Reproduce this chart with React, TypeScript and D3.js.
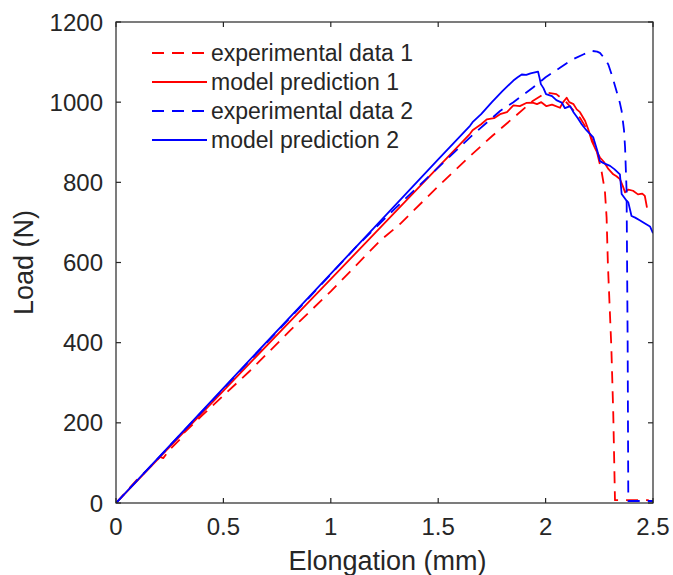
import React from "react";
import * as d3 from "d3";

type P = [number, number];

const xTicks = [0, 0.5, 1, 1.5, 2, 2.5];
const xTickLabels = ["0", "0.5", "1", "1.5", "2", "2.5"];
const yTicks = [0, 200, 400, 600, 800, 1000, 1200];
const yTickLabels = ["0", "200", "400", "600", "800", "1000", "1200"];

const seriesNames = ["experimental data 1", "model prediction 1", "experimental data 2", "model prediction 2"];
const seriesColors = ["#ff0000", "#ff0000", "#0000ff", "#0000ff"];
const seriesDashed = [true, false, true, false];

const experimental1: P[] = [
  [0, 0], [0.096, 57], [0.15, 85], [0.205, 115], [0.22, 112], [0.25, 133], [0.3, 160], [0.313, 173],
  [0.4, 218], [0.5, 268], [0.624, 330], [0.81, 430], [1.0, 528], [1.229, 654], [1.322, 696],
  [1.5, 790], [1.633, 858], [1.75, 915], [1.85, 961], [1.94, 1003], [2.004, 1024], [2.05, 1020],
  [2.098, 999], [2.16, 961], [2.207, 920], [2.238, 878], [2.26, 829], [2.276, 779], [2.284, 712],
  [2.29, 596], [2.306, 389], [2.315, 223], [2.323, 7], [2.48, 7],
];

const model1: P[] = [
  [0, 0], [0.3, 168], [0.6, 336], [0.9, 503], [1.2, 670], [1.5, 838], [1.648, 921], [1.66, 930],
  [1.7, 945], [1.726, 957], [1.76, 960], [1.788, 970], [1.82, 975], [1.85, 992], [1.88, 990],
  [1.91, 998], [1.94, 999], [1.96, 995], [1.98, 1000], [2.004, 990], [2.03, 994], [2.067, 986],
  [2.08, 999], [2.098, 1011], [2.11, 1000], [2.13, 995], [2.145, 982], [2.16, 975], [2.184, 953],
  [2.2, 930], [2.215, 903], [2.235, 880], [2.253, 862], [2.27, 852], [2.29, 835], [2.315, 820],
  [2.33, 815], [2.346, 808], [2.36, 790], [2.37, 775], [2.385, 782], [2.407, 779], [2.43, 770],
  [2.45, 772], [2.462, 766], [2.472, 737],
];

const experimental2: P[] = [
  [0, 0], [0.3, 171], [0.6, 342], [0.9, 513], [1.12, 640], [1.3, 735], [1.508, 841], [1.664, 920],
  [1.788, 978], [1.85, 1000], [1.94, 1036], [2.0, 1062], [2.067, 1086], [2.12, 1105], [2.175, 1119],
  [2.215, 1128], [2.24, 1126], [2.253, 1123], [2.27, 1112], [2.292, 1094], [2.31, 1065], [2.33, 1028],
  [2.345, 1000], [2.354, 978], [2.365, 930], [2.37, 887], [2.377, 779], [2.382, 400], [2.385, 5],
  [2.5, 5],
];

const model2: P[] = [
  [0, 0], [0.3, 172], [0.6, 344], [0.9, 515], [1.2, 686], [1.5, 857], [1.648, 941], [1.66, 950],
  [1.7, 970], [1.75, 1000], [1.8, 1028], [1.85, 1054], [1.87, 1062], [1.889, 1069], [1.91, 1068],
  [1.93, 1072], [1.965, 1076], [1.972, 1060], [1.978, 1045], [1.99, 1035], [2.002, 1020], [2.03, 1015],
  [2.05, 1005], [2.075, 999], [2.09, 985], [2.114, 990], [2.13, 975], [2.15, 960], [2.168, 945],
  [2.19, 930], [2.222, 912], [2.24, 880], [2.253, 853], [2.27, 848], [2.3, 841], [2.32, 833],
  [2.346, 820], [2.354, 771], [2.377, 754], [2.385, 750], [2.4, 716], [2.417, 712], [2.44, 705],
  [2.455, 700], [2.486, 690], [2.5, 673],
];

const allSeries = [experimental1, model1, experimental2, model2];

const W = 673;
const H = 575;
const left = 116;
const right = 653;
const top = 22;
const bottom = 503;
const axisColor = "#262626";
const font = "'Liberation Sans', Arial, Helvetica, sans-serif";

export default function App() {
  const x = d3.scaleLinear().domain([0, 2.5]).range([left, right]);
  const y = d3.scaleLinear().domain([0, 1200]).range([bottom, top]);
  const line = d3
    .line<P>()
    .x((d) => x(d[0]))
    .y((d) => y(d[1]));
  const tickLen = 5;
  const legendY = [53, 82, 111, 140];

  return (
    <svg
      width={W}
      height={H}
      style={{ position: "absolute", left: 0, top: 0, background: "#fff" }}
      fontFamily={font}
    >
      <rect x={0} y={0} width={W} height={H} fill="#fff" />
      <defs>
        <clipPath id="plotClip">
          <rect x={left} y={top} width={right - left} height={bottom - top} />
        </clipPath>
      </defs>
      <g clipPath="url(#plotClip)">
        {allSeries.map((s, i) => (
          <path
            key={i}
            d={line(s) || ""}
            fill="none"
            stroke={seriesColors[i]}
            strokeWidth={1.8}
            strokeDasharray={seriesDashed[i] ? "12,8" : undefined}
            strokeLinejoin="round"
          />
        ))}
      </g>
      {/* box */}
      <rect x={left} y={top} width={right - left} height={bottom - top} fill="none" stroke={axisColor} strokeWidth={1.2} />
      {xTicks.map((t, i) => (
        <g key={"x" + i}>
          <line x1={x(t)} x2={x(t)} y1={bottom} y2={bottom - tickLen} stroke={axisColor} strokeWidth={1.2} />
          <line x1={x(t)} x2={x(t)} y1={top} y2={top + tickLen} stroke={axisColor} strokeWidth={1.2} />
          <text x={x(t)} y={535} textAnchor="middle" fontSize={24} fill={axisColor}>
            {xTickLabels[i]}
          </text>
        </g>
      ))}
      {yTicks.map((t, i) => (
        <g key={"y" + i}>
          <line x1={left} x2={left + tickLen} y1={y(t)} y2={y(t)} stroke={axisColor} strokeWidth={1.2} />
          <line x1={right} x2={right - tickLen} y1={y(t)} y2={y(t)} stroke={axisColor} strokeWidth={1.2} />
          <text x={103} y={y(t) + 8.5} textAnchor="end" fontSize={24} fill={axisColor}>
            {yTickLabels[i]}
          </text>
        </g>
      ))}
      <text x={(left + right) / 2 + 3} y={570} textAnchor="middle" fontSize={27} fill={axisColor}>
        Elongation (mm)
      </text>
      <text
        transform={`translate(33, ${(top + bottom) / 2}) rotate(-90)`}
        textAnchor="middle"
        fontSize={27}
        fill={axisColor}
      >
        Load (N)
      </text>
      {seriesNames.map((name, i) => (
        <g key={"l" + i}>
          <line
            x1={152}
            x2={207}
            y1={legendY[i]}
            y2={legendY[i]}
            stroke={seriesColors[i]}
            strokeWidth={1.8}
            strokeDasharray={seriesDashed[i] ? "12,8" : undefined}
          />
          <text x={211} y={legendY[i] + 8} fontSize={23} fill={axisColor}>
            {name}
          </text>
        </g>
      ))}
    </svg>
  );
}
